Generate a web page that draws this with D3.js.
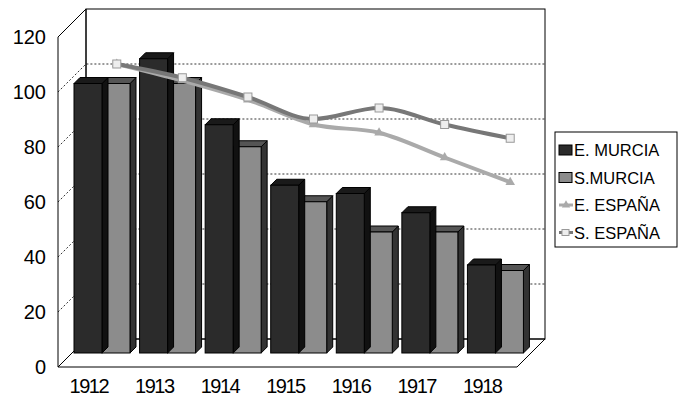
<!DOCTYPE html>
<html><head><meta charset="utf-8">
<script src="https://cdn.jsdelivr.net/npm/d3@7"></script>
<style>body{margin:0;background:#fff}</style></head>
<body><svg id="svg"></svg>
<script>
const years=["1912","1913","1914","1915","1916","1917","1918"]
const eMurcia=[98,107,83,61,58,51,32]
const sMurcia=[98,98,75,55,44,44,30]
const eEspana=[100,94,87,78,75,66,57]
const sEspana=[100,95,88,80,84,78,73]
const ticks=[0,20,40,60,80,100,120]
const names=["E. MURCIA","S.MURCIA","E. ESPAÑA","S. ESPAÑA"]

const W=678,H=404
const x0=58,x1=517,yb=367,D=28
const svg=d3.select("#svg").attr("width",W).attr("height",H).style("font-family","Liberation Sans, Arial, sans-serif")
const x=d3.scaleBand().domain(years).range([x0,x1])
const y=d3.scaleLinear().domain([0,120]).range([yb,37])

// walls
svg.append("polygon").attr("points",[[x0,yb],[x1,yb],[x1+D,yb-D],[x0+D,yb-D]].join(" ")).attr("fill","#fff").attr("stroke","#000")
svg.append("polygon").attr("points",[[x0,yb],[x0,y(120)],[x0+D,y(120)-D],[x0+D,yb-D]].join(" ")).attr("fill","#fff").attr("stroke","#000")
svg.append("rect").attr("x",x0+D).attr("y",y(120)-D).attr("width",x1-x0).attr("height",yb-y(120)).attr("fill","none").attr("stroke","#000")
ticks.slice(1,-1).forEach(t=>{
  svg.append("path").attr("d",`M${x0},${y(t)}L${x0+D},${y(t)-D}H${x1+D}`).attr("fill","none").attr("stroke","#000").attr("stroke-dasharray","2,2").attr("stroke-width",0.8)
})
svg.append("g").selectAll().data(ticks).join("text").attr("x",46).attr("y",d=>y(d)+7).attr("text-anchor","end").attr("font-size",20).text(d=>d)
svg.append("g").selectAll().data(years).join("text").attr("x",d=>x(d)+x.bandwidth()/2-2).attr("y",393).attr("text-anchor","middle").attr("font-size",20).attr("letter-spacing","-1.5").text(d=>d)

// bars
const bo=14,bd=6,bw=28
function bar(g,cx,v,fill,side,top){
  const xl=cx+bo, yt=y(v)-bo, ybt=yb-bo
  g.append("polygon").attr("points",[[xl+bw,ybt],[xl+bw+bd,ybt-bd],[xl+bw+bd,yt-bd],[xl+bw,yt]].join(" ")).attr("fill",side).attr("stroke","#000")
  g.append("polygon").attr("points",[[xl,yt],[xl+bd,yt-bd],[xl+bw+bd,yt-bd],[xl+bw,yt]].join(" ")).attr("fill",top).attr("stroke","#000")
  g.append("rect").attr("x",xl).attr("y",yt).attr("width",bw).attr("height",ybt-yt).attr("fill",fill).attr("stroke","#000")
}
const gb=svg.append("g")
years.forEach((yr,i)=>{
  const s=x(yr)+2
  bar(gb,s+28,sMurcia[i],"#8c8c8c","#333","#555")
  bar(gb,s,eMurcia[i],"#2b2b2b","#111","#1a1a1a")
})

// lines on back wall
const lx=d=>x(d)+x.bandwidth()/2+D-2
const ly=v=>y(v)-D
const line=d3.line().x((d,i)=>lx(years[i])).y(d=>ly(d)).curve(d3.curveMonotoneX)
svg.append("path").attr("d",line(eEspana)).attr("fill","none").attr("stroke","#aaa").attr("stroke-width",4)
svg.append("g").selectAll().data(eEspana).join("path").attr("d",d3.symbol(d3.symbolTriangle,40)).attr("transform",(d,i)=>`translate(${lx(years[i])},${ly(d)})`).attr("fill","#aaa")
svg.append("path").attr("d",line(sEspana)).attr("fill","none").attr("stroke","#777").attr("stroke-width",4)
svg.append("g").selectAll().data(sEspana).join("rect").attr("x",(d,i)=>lx(years[i])-4).attr("y",d=>ly(d)-4).attr("width",8).attr("height",8).attr("fill","#eee").attr("stroke","#999")

// legend
const lg=svg.append("g")
lg.append("rect").attr("x",555).attr("y",132).attr("width",122).attr("height",115).attr("fill","#fff").attr("stroke","#000")
names.forEach((n,i)=>{
  const yy=150+i*27.5
  if(i<2) lg.append("rect").attr("x",559).attr("y",yy-5).attr("width",13).attr("height",10).attr("fill",i?"#8c8c8c":"#2b2b2b").attr("stroke","#000")
  else {
    lg.append("line").attr("x1",559).attr("x2",573).attr("y1",yy).attr("y2",yy).attr("stroke",i==2?"#aaa":"#777").attr("stroke-width",3)
    if(i==2) lg.append("path").attr("d",d3.symbol(d3.symbolTriangle,30)).attr("transform",`translate(566,${yy})`).attr("fill","#aaa")
    else lg.append("rect").attr("x",562).attr("y",yy-3).attr("width",7).attr("height",6).attr("fill","#eee").attr("stroke","#999")
  }
  lg.append("text").attr("x",574).attr("y",yy+6).attr("font-size",16.5).text(n)
})
</script></body></html>
